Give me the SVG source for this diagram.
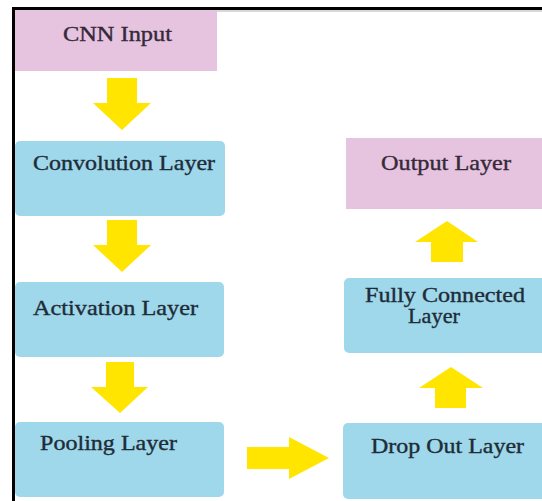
<svg xmlns="http://www.w3.org/2000/svg" width="542" height="501" viewBox="0 0 542 501">
  <defs>
    <style>
      .pink { fill: #e6c4df; }
      .blue { fill: #9ed8ea; }
      .arrow { fill: #ffe500; }
      /* labels are set in a 20px serif and widened 1.2x horizontally */
      .lbl { font-family: "Liberation Serif", "Times New Roman", serif; font-size: 20px; fill: #1e2c38; stroke: #1e2c38; stroke-width: 0.35; }
      .lbl-p { fill: #35293a; stroke: #35293a; }
    </style>
  </defs>

  <rect x="0" y="0" width="542" height="501" fill="#ffffff"/>

  <!-- frame (cropped at right and bottom) -->
  <line x1="12" y1="11" x2="542" y2="11" stroke="#d8d8d8" stroke-width="2"/>
  <rect x="13.5" y="8.5" width="560" height="520" fill="none" stroke="#000000" stroke-width="3"/>

  <g id="cnn-input">
    <rect class="pink" x="15" y="10" width="202" height="61"/>
    <text class="lbl lbl-p" transform="translate(63 41) scale(1.2 1)" textLength="90.8" lengthAdjust="spacingAndGlyphs">CNN Input</text>
  </g>

  <g id="convolution-layer">
    <rect class="blue" x="15" y="141" width="210" height="75" rx="5"/>
    <text class="lbl" transform="translate(33 170) scale(1.2 1)" textLength="151.7" lengthAdjust="spacingAndGlyphs">Convolution Layer</text>
  </g>

  <g id="activation-layer">
    <rect class="blue" x="15" y="282" width="209" height="75" rx="5"/>
    <text class="lbl" transform="translate(33 315) scale(1.2 1)" textLength="137.5" lengthAdjust="spacingAndGlyphs">Activation Layer</text>
  </g>

  <g id="pooling-layer">
    <rect class="blue" x="15" y="422" width="209" height="75" rx="5"/>
    <text class="lbl" transform="translate(40 450) scale(1.2 1)" textLength="114.2" lengthAdjust="spacingAndGlyphs">Pooling Layer</text>
  </g>

  <g id="drop-out-layer">
    <rect class="blue" x="343" y="423" width="210" height="76" rx="5"/>
    <text class="lbl" transform="translate(371 453) scale(1.2 1)" textLength="127.5" lengthAdjust="spacingAndGlyphs">Drop Out Layer</text>
  </g>

  <g id="fully-connected-layer">
    <rect class="blue" x="344" y="278" width="210" height="75" rx="5"/>
    <text class="lbl" transform="translate(365 302) scale(1.2 1)" textLength="133.3" lengthAdjust="spacingAndGlyphs">Fully Connected</text>
    <text class="lbl" transform="translate(408 323) scale(1.2 1)" textLength="43.3" lengthAdjust="spacingAndGlyphs">Layer</text>
  </g>

  <g id="output-layer">
    <rect class="pink" x="346" y="138" width="200" height="71"/>
    <text class="lbl lbl-p" transform="translate(381 170) scale(1.2 1)" textLength="108.3" lengthAdjust="spacingAndGlyphs">Output Layer</text>
  </g>

  <!-- block arrows between layers -->
  <g id="connectors">
    <polygon class="arrow" points="107,78 137,78 137,103 151,103 122,130 93,103 107,103"/>
    <polygon class="arrow" points="107,220 137,220 137,245 151,245 122,272 93,245 107,245"/>
    <polygon class="arrow" points="106,362 134,362 134,387 148,387 120,413 91,387 106,387"/>
    <polygon class="arrow" points="247,447 289,447 289,437 329,458 289,479 289,469 247,469"/>
    <polygon class="arrow" points="435,408 466,408 466,388 483,388 451,367 419,388 435,388"/>
    <polygon class="arrow" points="431,262 463,262 463,242 478,242 447,221 415,242 431,242"/>
  </g>
</svg>
